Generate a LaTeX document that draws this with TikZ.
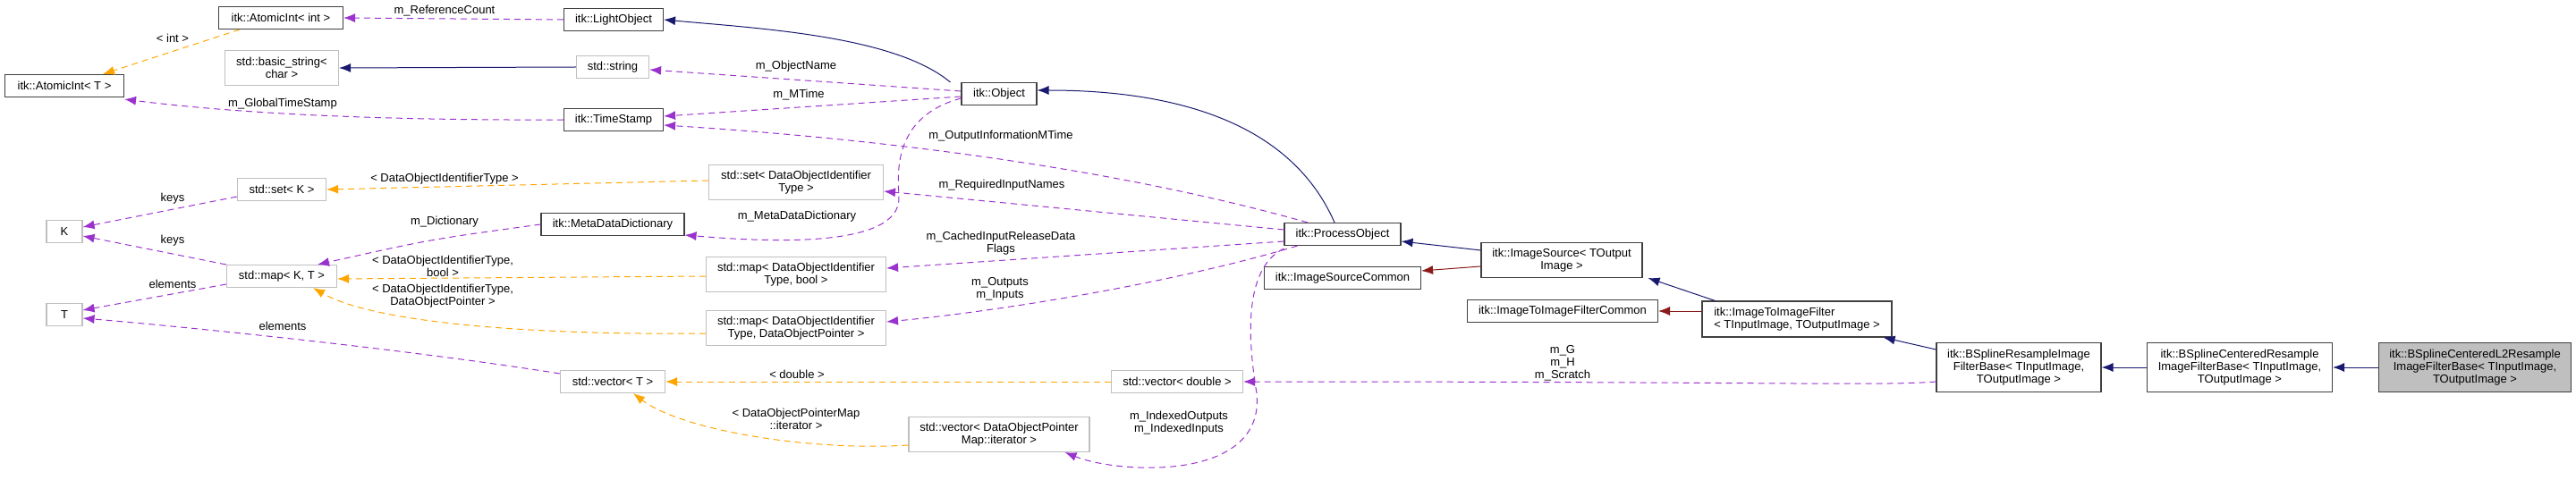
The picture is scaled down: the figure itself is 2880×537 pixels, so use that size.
\documentclass[tikz,border=0pt]{standalone}
\usepackage{fontspec}
\setmainfont{Liberation Sans}
\usetikzlibrary{arrows.meta}
\definecolor{usecol}{HTML}{9A32CD}
\definecolor{tplcol}{HTML}{FFA500}
\definecolor{inhcol}{HTML}{191970}
\definecolor{privcol}{HTML}{8B1A1A}
\begin{document}
\begin{tikzpicture}[x=1pt, y=-1pt, line width=1pt,
    every node/.style={font=\fontsize{13}{14}\selectfont, inner sep=0pt, align=center},
    cls/.style={draw=black!75, line width=1.1pt, rectangle},
    ext/.style={draw=black!25, line width=1.1pt, rectangle},
    use/.style={usecol, dash pattern=on 7pt off 5pt, -{Latex[length=13pt,width=10pt]}},
    tpl/.style={tplcol, dash pattern=on 7pt off 5pt, -{Latex[length=13pt,width=10pt]}},
    inh/.style={inhcol, -{Latex[length=13pt,width=10pt]}},
    priv/.style={privcol, -{Latex[length=13pt,width=10pt]}},
    lbl/.style={}]
  \useasboundingbox (0,0) rectangle (2880,537);

  % classes
  \node[cls, minimum width=139pt, minimum height=25pt] (aint) at (314,20) {itk::AtomicInt< int >};
  \node[cls, minimum width=111pt, minimum height=25pt] (light) at (686,22) {itk::LightObject};
  \node[ext, minimum width=127pt, minimum height=39pt] (bstr) at (315,76) {std::basic\_string<\\char >};
  \node[ext, minimum width=81pt, minimum height=25pt] (sstr) at (685,75) {std::string};
  \node[cls, minimum width=133pt, minimum height=25pt] (aintT) at (72,96) {itk::AtomicInt< T >};
  \node[cls, minimum width=111pt, minimum height=25pt] (tstamp) at (686,134) {itk::TimeStamp};
  \node[ext, minimum width=99pt, minimum height=25pt] (setK) at (315,212) {std::set< K >};
  \node[ext, minimum width=40pt, minimum height=25pt] (K) at (72,259) {K};
  \node[cls, minimum width=160pt, minimum height=25pt] (mdd) at (685,251) {itk::MetaDataDictionary};
  \node[ext, minimum width=123pt, minimum height=25pt] (mapKT) at (315,309) {std::map< K, T >};
  \node[ext, minimum width=40pt, minimum height=25pt] (T) at (72,352) {T};
  \node[ext, minimum width=117pt, minimum height=25pt] (vecT) at (685,427) {std::vector< T >};
  \node[cls, minimum width=84pt, minimum height=25pt] (obj) at (1117,105) {itk::Object};
  \node[ext, minimum width=195pt, minimum height=39pt] (setDOI) at (890,204) {std::set< DataObjectIdentifier\\Type >};
  \node[ext, minimum width=201pt, minimum height=39pt] (mapB) at (890,307) {std::map< DataObjectIdentifier\\Type, bool >};
  \node[ext, minimum width=201pt, minimum height=39pt] (mapP) at (890,367) {std::map< DataObjectIdentifier\\Type, DataObjectPointer >};
  \node[ext, minimum width=147pt, minimum height=25pt] (vecD) at (1316,427) {std::vector< double >};
  \node[ext, minimum width=202pt, minimum height=39pt] (vecIt) at (1117,486) {std::vector< DataObjectPointer\\Map::iterator >};
  \node[cls, minimum width=130pt, minimum height=25pt] (po) at (1501,262) {itk::ProcessObject};
  \node[cls, minimum width=180pt, minimum height=39pt] (isrc) at (1746,291) {itk::ImageSource< TOutput\\Image >};
  \node[cls, minimum width=175pt, minimum height=25pt] (isc) at (1501,311) {itk::ImageSourceCommon};
  \node[cls, minimum width=212pt, minimum height=40pt, align=left] (itif) at (2009,357) {itk::ImageToImageFilter\\< TInputImage, TOutputImage >};
  \node[cls, minimum width=213pt, minimum height=25pt] (itifc) at (1747,348) {itk::ImageToImageFilterCommon};
  \node[cls, minimum width=184pt, minimum height=55pt] (bsr) at (2257,411) {itk::BSplineResampleImage\\FilterBase< TInputImage,\\TOutputImage >};
  \node[cls, minimum width=207pt, minimum height=55pt] (bcr) at (2504,411) {itk::BSplineCenteredResample\\ImageFilterBase< TInputImage,\\TOutputImage >};
  \node[cls, fill=black!25, minimum width=215pt, minimum height=55pt] (bl2) at (2767,411) {itk::BSplineCenteredL2Resample\\ImageFilterBase< TInputImage,\\TOutputImage >};

  % inheritance
  \draw[inh] (sstr.west) -- (bstr.east);
  \draw[inh] ([xshift=-12pt]obj.north west) .. controls (1000,40) and (850,32) .. (light.east);
  \draw[inh] ([xshift=-9pt]po.north) .. controls (1440,130) and (1300,101) .. ([yshift=4pt]obj.east);
  \draw[inh] ([yshift=11pt]isrc.west) -- ([yshift=-8pt]po.east);
  \draw[priv] ([yshift=-7pt]isrc.west) -- ([yshift=8pt]isc.east);
  \draw[inh] ([xshift=15pt]itif.north west) -- ([xshift=6pt]isrc.south east);
  \draw[priv] ([yshift=9pt]itif.west) -- (itifc.east);
  \draw[inh] ([yshift=20pt]bsr.west) -- ([xshift=-10pt]itif.south east);
  \draw[inh] (bcr.west) -- (bsr.east);
  \draw[inh] (bl2.west) -- (bcr.east);

  % members
  \draw[use] (light.west) -- (aint.east);
  \draw[use] ([yshift=3pt]obj.west) -- ([yshift=-3pt]sstr.east);
  \draw[use] ([yshift=-3pt]obj.west) -- ([yshift=4pt]tstamp.east);
  \draw[use] (tstamp.west) .. controls (400,135) and (250,125) .. ([yshift=-2pt]aintT.south east);
  \draw[use] ([xshift=-39pt]po.north) .. controls (1200,175) and (900,150) .. ([yshift=-6pt]tstamp.east);
  \draw[use] ([yshift=5pt]po.west) -- ([yshift=-10pt]setDOI.east);
  \draw[use] ([yshift=-5pt]obj.west) .. controls (1000,130) and (1003,190) .. (1005,220)
    .. controls (1008,280) and (850,270) .. ([yshift=-12pt]mdd.east);
  \draw[use] ([yshift=-8pt]po.west) -- ([yshift=7pt]mapB.east);
  \draw[use] ([xshift=15pt]po.south west) .. controls (1300,320) and (1100,350) .. ([yshift=7pt]mapP.east);
  \draw[use] ([xshift=0pt,yshift=-3pt]po.south west) .. controls (1390,300) and (1395,380) .. (1405,440)
    .. controls (1415,540) and (1250,530) .. ([xshift=-28pt]vecIt.south east);
  \draw[use] ([yshift=-16pt]bsr.west) .. controls (2100,432) and (2000,427) .. (vecD.east);
  \draw[use] (mdd.west) .. controls (480,268) .. ([xshift=40pt]mapKT.north);
  \draw[use] ([yshift=-8pt]setK.west) -- ([yshift=5pt]K.east);
  \draw[use] ([yshift=13pt]mapKT.west) -- ([yshift=-5pt]K.east);
  \draw[use] ([yshift=-9pt]mapKT.west) -- ([yshift=5pt]T.east);
  \draw[use] ([yshift=9pt]vecT.west) .. controls (450,390) and (200,365) .. ([yshift=-4pt]T.east);

  % templates
  \draw[tpl] ([xshift=-46pt]aint.south) -- ([xshift=43pt]aintT.north);
  \draw[tpl] ([yshift=2pt]setDOI.west) -- (setK.east);
  \draw[tpl] ([yshift=-2pt]mapB.west) -- ([yshift=-3pt]mapKT.east);
  \draw[tpl] ([yshift=-6pt]mapP.west) .. controls (600,375) and (420,362) .. ([xshift=35pt]mapKT.south);
  \draw[tpl] (vecD.west) -- (vecT.east);
  \draw[tpl] ([yshift=-12pt]vecIt.west) .. controls (900,505) and (760,480) .. ([xshift=23pt]vecT.south);

  % labels
  \node[lbl] (lref) at (497,12) {m\_ReferenceCount};
  \node[lbl] (lint) at (193,43) {< int >};
  \node[lbl] (lgts) at (316,116) {m\_GlobalTimeStamp};
  \node[lbl] (lon) at (890,74) {m\_ObjectName};
  \node[lbl] (lmt) at (893,106) {m\_MTime};
  \node[lbl] (loim) at (1119,152) {m\_OutputInformationMTime};
  \node[lbl] (lrin) at (1120,207) {m\_RequiredInputNames};
  \node[lbl] (lmdd) at (891,242) {m\_MetaDataDictionary};
  \node[lbl] (lcir) at (1119,272) {m\_CachedInputReleaseData\\Flags};
  \node[lbl] (loi) at (1118,323) {m\_Outputs\\m\_Inputs};
  \node[lbl] (lidx) at (1318,473) {m\_IndexedOutputs\\m\_IndexedInputs};
  \node[lbl] (lghs) at (1747,406) {m\_G\\m\_H\\m\_Scratch};
  \node[lbl] (ldbl) at (891,419) {< double >};
  \node[lbl] (lit) at (890,469) {< DataObjectPointerMap\\::iterator >};
  \node[lbl] (ldoi) at (497,200) {< DataObjectIdentifierType >};
  \node[lbl] (ldic) at (497,248) {m\_Dictionary};
  \node[lbl] (ldb) at (495,298) {< DataObjectIdentifierType,\\bool >};
  \node[lbl] (ldp) at (495,331) {< DataObjectIdentifierType,\\DataObjectPointer >};
  \node[lbl] (lk1) at (193,222) {keys};
  \node[lbl] (lk2) at (193,269) {keys};
  \node[lbl] (le1) at (193,318) {elements};
  \node[lbl] (le2) at (316,365) {elements};
\end{tikzpicture}
\end{document}
